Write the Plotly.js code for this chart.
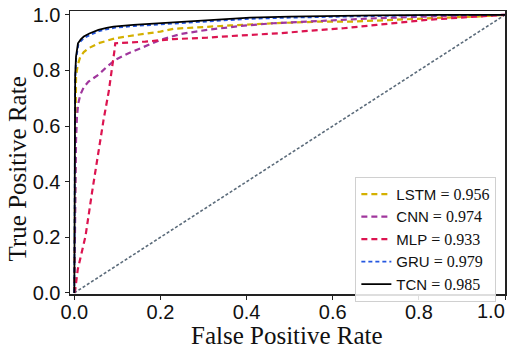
<!DOCTYPE html>
<html>
<head>
<meta charset="utf-8">
<script src="https://cdn.plot.ly/plotly-3.0.1.min.js"></script>
<style>html,body{margin:0;padding:0;background:#fff;}#chart{width:511px;height:348px;}</style>
</head>
<body>
<div id="chart"></div>
<script>
// ROC data
const lstmFpr = [0, 0.001, 0.002, 0.004, 0.008, 0.014, 0.022, 0.033, 0.056, 0.095, 0.145, 0.2, 0.23, 0.308, 0.362, 0.462, 0.571, 0.648, 0.725, 0.857, 0.934, 1.0];
const lstmTpr = [0, 0.3, 0.6, 0.778, 0.82, 0.85, 0.866, 0.88, 0.898, 0.916, 0.928, 0.94, 0.95, 0.958, 0.962, 0.970, 0.976, 0.976, 0.982, 0.990, 0.994, 1.0];

const cnnFpr = [0, 0.001, 0.002, 0.004, 0.006, 0.009, 0.014, 0.022, 0.033, 0.056, 0.076, 0.095, 0.126, 0.161, 0.2, 0.246, 0.308, 0.385, 0.462, 0.571, 0.702, 0.857, 1.0];
const cnnTpr = [0, 0.2, 0.4, 0.55, 0.63, 0.68, 0.713, 0.74, 0.76, 0.785, 0.814, 0.838, 0.862, 0.886, 0.910, 0.931, 0.946, 0.960, 0.970, 0.978, 0.988, 0.996, 1.0];

const mlpFpr = [0, 0.002, 0.008, 0.026, 0.041, 0.056, 0.068, 0.08, 0.087, 0.094, 0.095, 0.165, 0.23, 0.308, 0.385, 0.478, 0.571, 0.625, 0.702, 0.818, 0.896, 0.981, 1.0];
const mlpTpr = [0, 0.01, 0.084, 0.204, 0.36, 0.515, 0.623, 0.725, 0.796, 0.880, 0.898, 0.904, 0.913, 0.918, 0.926, 0.934, 0.946, 0.952, 0.964, 0.982, 0.990, 1.0, 1.0];

const gruFpr = [0, 0.001, 0.002, 0.004, 0.007, 0.0095, 0.016, 0.024, 0.038, 0.058, 0.078, 0.095, 0.14, 0.2, 0.25, 0.308, 0.408, 0.5, 0.571, 0.7, 0.85, 1.0];
const gruTpr = [0, 0.48, 0.76, 0.84, 0.875, 0.893, 0.907, 0.918, 0.929, 0.942, 0.949, 0.954, 0.960, 0.966, 0.972, 0.977, 0.986, 0.990, 0.993, 0.996, 0.999, 1.0];

const tcnFpr = [0, 0.001, 0.002, 0.004, 0.006, 0.0085, 0.015, 0.022, 0.035, 0.056, 0.075, 0.091, 0.137, 0.2, 0.25, 0.308, 0.408, 0.5, 0.571, 0.7, 0.85, 1.0];
const tcnTpr = [0, 0.5, 0.78, 0.85, 0.88, 0.898, 0.912, 0.922, 0.933, 0.946, 0.953, 0.958, 0.964, 0.970, 0.976, 0.982, 0.990, 0.994, 0.996, 0.998, 1.0, 1.0];

const chanceX = [0, 1];
const chanceY = [0, 1];

const modelNames = ['LSTM', 'CNN', 'MLP', 'GRU', 'TCN'];
const aucValues = ['0.956', '0.974', '0.933', '0.979', '0.985'];

const xTickVals = [0, 0.2, 0.4, 0.6, 0.8, 1.0];
const xTickText = ['0.0', '0.2', '0.4', '0.6', '0.8', '1.0'];
const yTickVals = [0, 0.2, 0.4, 0.6, 0.8, 1.0];
const yTickText = ['0.0', '0.2', '0.4', '0.6', '0.8', '1.0'];

function label(i) {
  return modelNames[i] + '<span style="font-family:\'Liberation Serif\',serif;font-size:16px"> = ' + aucValues[i] + '</span>';
}

const traces = [
  {x: chanceX, y: chanceY, mode: 'lines', showlegend: false, hoverinfo: 'skip',
   line: {color: '#5b6b7a', width: 1.6, dash: '3px,2px'}},
  {x: lstmFpr, y: lstmTpr, mode: 'lines', name: label(0),
   line: {color: '#d4b000', width: 2.2, dash: '6px,4px'}},
  {x: cnnFpr, y: cnnTpr, mode: 'lines', name: label(1),
   line: {color: '#a0369c', width: 2.2, dash: '6px,4px'}},
  {x: mlpFpr, y: mlpTpr, mode: 'lines', name: label(2),
   line: {color: '#dc1450', width: 2.2, dash: '6px,4px'}},
  {x: gruFpr, y: gruTpr, mode: 'lines', name: label(3),
   line: {color: '#2557e0', width: 1.8, dash: '4px,3px'}},
  {x: tcnFpr, y: tcnTpr, mode: 'lines', name: label(4),
   line: {color: '#000000', width: 1.8}}
];

const tickFont = {family: 'Liberation Sans, Arial, sans-serif', size: 20, color: '#111'};
const axisCommon = {
  showline: true, linecolor: '#222', linewidth: 1.5, mirror: true,
  showgrid: false, zeroline: false,
  ticks: 'outside', ticklen: 4, tickcolor: '#222', tickwidth: 1,
  tickfont: tickFont
};

// last x tick label is drawn as an annotation so it stays inside the picture like the reference
const xTickTextShown = xTickText.map((t, i) => i === xTickText.length - 1 ? '' : t);

const layout = {
  width: 511, height: 348,
  margin: {l: 70, r: 6, t: 11, b: 53.5, pad: 0},
  paper_bgcolor: '#fff', plot_bgcolor: '#fff',
  xaxis: Object.assign({}, axisCommon, {range: [-0.01, 1.0], tickvals: xTickVals, ticktext: xTickTextShown, ticklabelstandoff: -5}),
  yaxis: Object.assign({}, axisCommon, {range: [-0.004, 1.014], tickvals: yTickVals, ticktext: yTickText}),
  showlegend: true,
  legend: {
    x: 0.656, y: 0.414, xanchor: 'left', yanchor: 'top',
    bgcolor: 'rgba(255,255,255,0.85)', bordercolor: '#d0d0d0', borderwidth: 1,
    font: {family: 'Liberation Sans, Arial, sans-serif', size: 15, color: '#111'},
    tracegroupgap: 0, itemwidth: 30
  },
  annotations: [
    {text: xTickText[xTickText.length - 1], xref: 'paper', yref: 'paper', x: 1.0046, y: -0.014,
     xanchor: 'right', yanchor: 'top', showarrow: false, font: tickFont},
    {text: 'False Positive Rate', xref: 'paper', yref: 'paper', x: 0.499, y: -0.148,
     xanchor: 'center', yanchor: 'middle', showarrow: false,
     font: {family: 'Liberation Serif, Times New Roman, serif', size: 25, color: '#111'}},
    {text: 'True Positive Rate', xref: 'paper', yref: 'paper', x: -0.12, y: 0.443,
     xanchor: 'center', yanchor: 'middle', showarrow: false, textangle: -90,
     font: {family: 'Liberation Serif, Times New Roman, serif', size: 25, color: '#111'}}
  ]
};

Plotly.newPlot('chart', traces, layout, {displayModeBar: false, staticPlot: true});
</script>
</body>
</html>
